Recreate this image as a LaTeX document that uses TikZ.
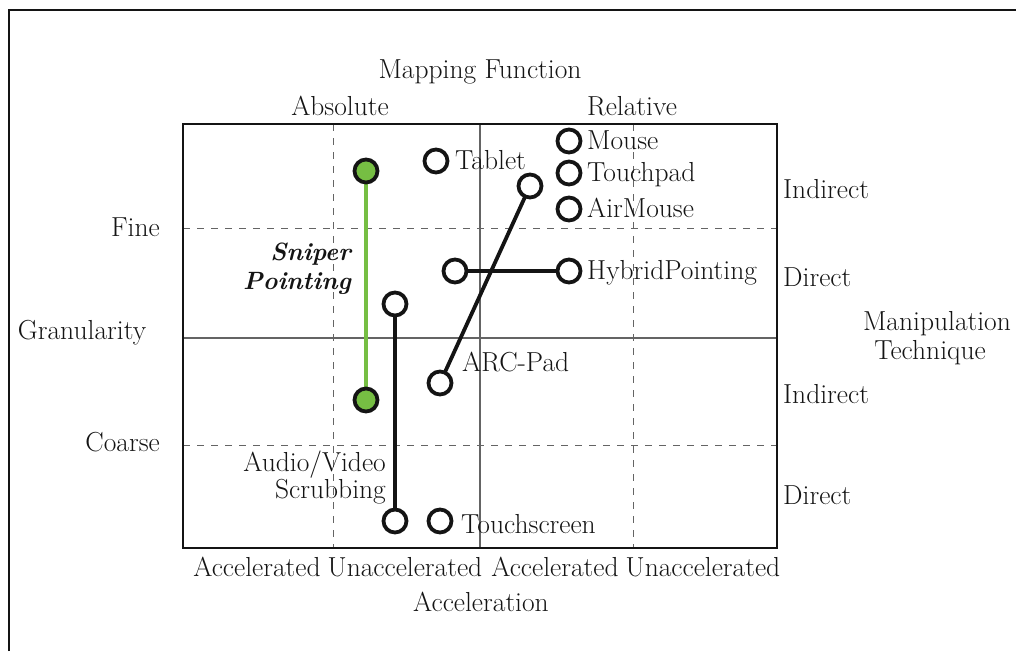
\documentclass[tikz,border=0pt]{standalone}
\usetikzlibrary{positioning}
\definecolor{sgreen}{RGB}{118,190,67}
\definecolor{gridgray}{RGB}{100,100,100}
\definecolor{ink}{RGB}{20,20,20}
\begin{document}
\begin{tikzpicture}[x=1pt,y=-1pt,
  lbl/.style={font=\fontsize{27.5}{32}\selectfont, inner sep=0pt, text=ink},
  dev/.style={circle, draw=ink, line width=3.8pt, fill=white, minimum size=23pt, inner sep=0pt},
  gdev/.style={dev, fill=sgreen},
  link/.style={draw=ink, line width=3.8pt},
  glink/.style={draw=sgreen, line width=3.3pt},
  dashgrid/.style={draw=gridgray, line width=1pt, dash pattern=on 7pt off 7pt},
  solidgrid/.style={draw=gridgray, line width=1.1pt},
  frame/.style={draw=ink, line width=1.8pt}]
\useasboundingbox (0,0) rectangle (1016,651);
% outer frame (partially visible)
\draw[draw=ink, line width=2.2pt] (9,651) -- (9,10) -- (1016,10);
% grid
\draw[dashgrid] (333,124) -- (333,548);
\draw[dashgrid] (633,124) -- (633,548);
\draw[dashgrid] (183,228) -- (777,228);
\draw[dashgrid] (183,445) -- (777,445);
\draw[solidgrid] (480,124) -- (480,548);
\draw[solidgrid] (183,338) -- (777,338);
\draw[frame] (183,124) rectangle (777,548);
% axis labels
\node[lbl, anchor=base] (mf) at (480,78) {Mapping Function};
\node[lbl, anchor=base] (abs) at (340,115) {Absolute};
\node[lbl, anchor=base] (rel) at (632,115) {Relative};
\node[lbl, anchor=base east] (fine) at (160,236) {Fine};
\node[lbl, anchor=base] (gran) at (82,339) {Granularity};
\node[lbl, anchor=base east] (coarse) at (160,451) {Coarse};
\node[lbl, anchor=base west] (ind1) at (783,198) {Indirect};
\node[lbl, anchor=base west] (dir1) at (783,286) {Direct};
\node[lbl, anchor=base west] (ind2) at (783,403) {Indirect};
\node[lbl, anchor=base west] (dir2) at (783,504) {Direct};
\node[lbl, anchor=base] (mt1) at (937,330) {Manipulation};
\node[lbl, anchor=base] (mt2) at (930,359) {Technique};
\node[lbl, anchor=base] (a1) at (257,576) {Accelerated};
\node[lbl, anchor=base] (u1) at (405,576) {Unaccelerated};
\node[lbl, anchor=base] (a2) at (555,576) {Accelerated};
\node[lbl, anchor=base] (u2) at (703,576) {Unaccelerated};
\node[lbl, anchor=base] (acc) at (481,611) {Acceleration};
% connectors first
\coordinate (spt) at (366,171);
\coordinate (spb) at (366,400);
\draw[glink] (spt) -- (spb);
\draw[link] (455,271) coordinate (hpL) -- (569,271) coordinate (hpR);
\draw[link] (530,186) coordinate (arcT) -- (440,383) coordinate (arcB);
\draw[link] (395,304) coordinate (avT) -- (395,521) coordinate (avB);
% devices
\node[gdev] (sniperT) at (spt) {};
\node[gdev] (sniperB) at (spb) {};
\node[dev] (tablet) at (436,161) {};
\node[dev] (mouse) at (569,141) {};
\node[dev] (touchpad) at (569,173) {};
\node[dev] (airmouse) at (569,209) {};
\node[dev] (hybL) at (hpL) {};
\node[dev] (hybR) at (hpR) {};
\node[dev] (arcTop) at (arcT) {};
\node[dev] (arcBot) at (arcB) {};
\node[dev] (avTop) at (avT) {};
\node[dev] (avBot) at (avB) {};
\node[dev] (touchscreen) at (440,521) {};
% device labels
\node[lbl, anchor=base west] at (455,169) {Tablet};
\node[lbl, anchor=base west] at (587,149) {Mouse};
\node[lbl, anchor=base west] at (587,181) {Touchpad};
\node[lbl, anchor=base west] at (587,217) {AirMouse};
\node[lbl, anchor=base west] at (587,279) {HybridPointing};
\node[lbl, anchor=base west] at (462,371) {ARC-Pad};
\node[lbl, anchor=base west] at (461,533) {Touchscreen};
\node[lbl, anchor=base east, font=\fontsize{25}{30}\selectfont\bfseries\itshape] at (351,260) {Sniper};
\node[lbl, anchor=base east, font=\fontsize{25}{30}\selectfont\bfseries\itshape] at (351,289) {Pointing};
\node[lbl, anchor=base east] at (386,471) {Audio/Video};
\node[lbl, anchor=base east] at (386,498) {Scrubbing};
\end{tikzpicture}
\end{document}
